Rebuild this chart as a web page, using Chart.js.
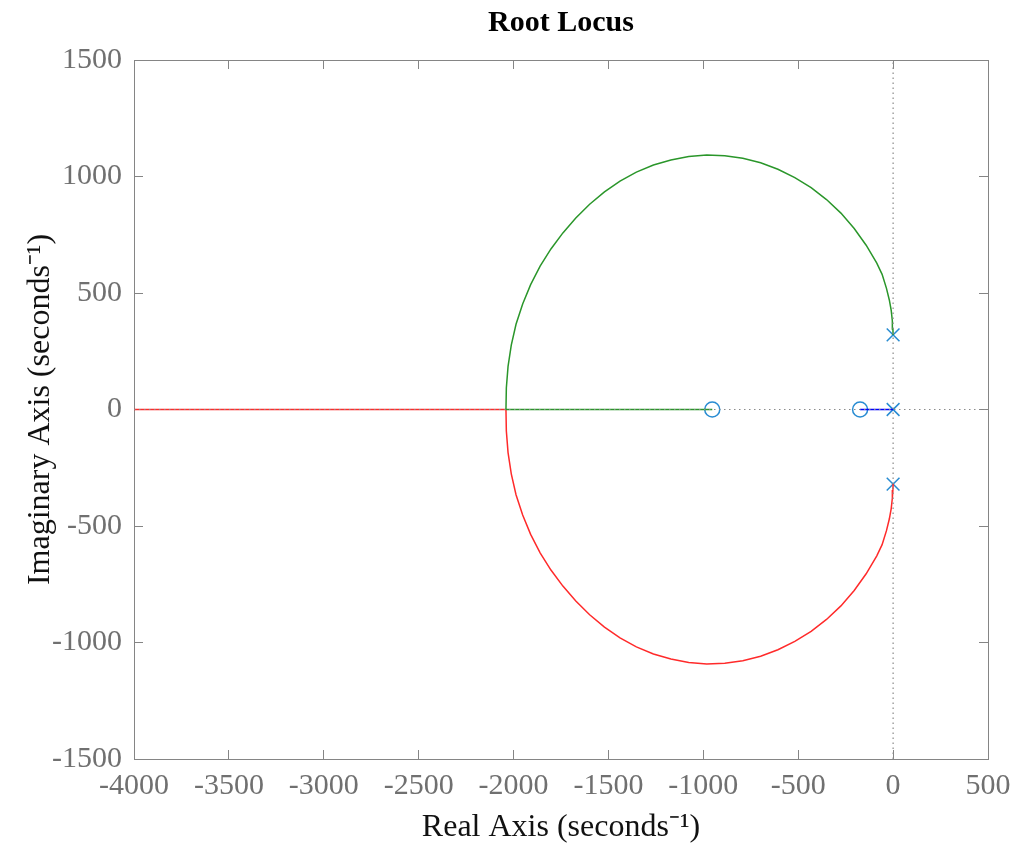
<!DOCTYPE html>
<html>
<head>
<meta charset="utf-8">
<title>Root Locus</title>
<script src="https://cdn.jsdelivr.net/npm/chart.js@4.4.1/dist/chart.umd.min.js"></script>
<style>
  body { margin: 0; background: #fff; }
  #wrap { width: 1016px; height: 848px; }
</style>
</head>
<body>
<div id="wrap"><canvas id="myChart" width="1016" height="848"></canvas></div>
<script>
// Ramas del lugar de las raices
const greenArcX = [0, -1, -4, -10, -20, -35, -58, -86, -142, -205, -275, -351, -432, -518, -607, -698, -792, -887, -982,
    -1077, -1171, -1263, -1353, -1439, -1521, -1599, -1672, -1740, -1803, -1860, -1910, -1952, -1987, -2012, -2029, -2038, -2040];
const greenArcY = [320, 345, 380, 425, 470, 520, 580, 628, 705, 777, 843, 901, 952, 995, 1031, 1059, 1078, 1089, 1092,
    1086, 1071, 1049, 1019, 980, 934, 881, 822, 758, 689, 615, 536, 453, 366, 276, 185, 92, 0];
const redArcX = [0, -1, -4, -10, -20, -35, -58, -86, -142, -205, -275, -351, -432, -518, -607, -698, -792, -887, -982,
    -1077, -1171, -1263, -1353, -1439, -1521, -1599, -1672, -1740, -1803, -1860, -1910, -1952, -1987, -2012, -2029, -2038, -2040];
const redArcY = [-320, -345, -380, -425, -470, -520, -580, -628, -705, -777, -843, -901, -952, -995, -1031, -1059, -1078, -1089, -1092,
    -1086, -1071, -1049, -1019, -980, -934, -881, -822, -758, -689, -615, -536, -453, -366, -276, -185, -92, 0];
const greenRealX = [-2040, -953];
const redRealX = [-2040, -4000];
const blueRealX = [0, -174];

// Polos y ceros
const polesX = [0, 0, 0];
const polesY = [320, 0, -320];
const zerosX = [-953, -174];
const zerosY = [0, 0];

// Ejes
const xMin = -4000, xMax = 500, xStep = 500;
const yMin = -1500, yMax = 1500, yStep = 500;

const toPts = (xs, ys) => xs.map((x, i) => ({ x: x, y: ys[i] }));
const onAxis = xs => xs.map(x => ({ x: x, y: 0 }));

const GRAY = '#707070';
const BOX = '#858585';
const MARK = 'rgb(40,140,210)';

// Caja y ticks hacia adentro (debajo de los datos, como en MATLAB)
const boxTicks = {
    id: 'boxTicks',
    beforeDatasetsDraw(chart) {
        const ctx = chart.ctx;
        const a = chart.chartArea;
        const xs = chart.scales.x, ys = chart.scales.y;
        const len = 9;
        ctx.save();
        ctx.strokeStyle = BOX;
        ctx.lineWidth = 1;
        ctx.beginPath();
        xs.ticks.forEach(t => {
            const px = Math.floor(xs.getPixelForValue(t.value)) + 0.5;
            ctx.moveTo(px, a.bottom); ctx.lineTo(px, a.bottom - len);
            ctx.moveTo(px, a.top); ctx.lineTo(px, a.top + len);
        });
        ys.ticks.forEach(t => {
            const py = Math.floor(ys.getPixelForValue(t.value)) + 0.5;
            ctx.moveTo(a.left, py); ctx.lineTo(a.left + len, py);
            ctx.moveTo(a.right, py); ctx.lineTo(a.right - len, py);
        });
        ctx.stroke();
        ctx.strokeRect(Math.floor(a.left) + 0.5, Math.floor(a.top) + 0.5,
            Math.round(a.right - a.left), Math.round(a.bottom - a.top));
        ctx.restore();
    },
    // Titulo centrado sobre el area de los ejes
    afterDraw(chart) {
        const ctx = chart.ctx;
        const a = chart.chartArea;
        ctx.save();
        ctx.fillStyle = '#000';
        ctx.font = 'bold 30px "Liberation Serif"';
        ctx.textAlign = 'center';
        ctx.textBaseline = 'middle';
        ctx.fillText('Root Locus', (a.left + a.right) / 2, 23);
        ctx.restore();
    }
};

const ctx = document.getElementById('myChart').getContext('2d');
const myChart = new Chart(ctx, {
    type: 'scatter',
    data: {
        datasets: [
            { data: [{ x: 0, y: yMin }, { x: 0, y: yMax }], showLine: true, borderColor: '#8a8a8a', borderWidth: 1.2, borderDash: [1.5, 3.5], pointRadius: 0 },
            { data: [{ x: xMin, y: 0 }, { x: xMax, y: 0 }], showLine: true, borderColor: '#8a8a8a', borderWidth: 1.2, borderDash: [1.5, 3.5], pointRadius: 0 },
            { data: toPts(greenArcX, greenArcY), showLine: true, borderColor: '#2a962a', borderWidth: 1.5, pointRadius: 0 },
            { data: onAxis(greenRealX), showLine: true, borderColor: '#2a962a', borderWidth: 1.5, pointRadius: 0 },
            { data: toPts(redArcX, redArcY), showLine: true, borderColor: '#ff2a2a', borderWidth: 1.5, pointRadius: 0 },
            { data: onAxis(redRealX), showLine: true, borderColor: '#ff2a2a', borderWidth: 1.5, pointRadius: 0 },
            { data: onAxis(blueRealX), showLine: true, borderColor: '#0000ff', borderWidth: 1.5, pointRadius: 0 },
            { data: toPts(polesX, polesY), pointStyle: 'crossRot', pointRadius: 9, borderColor: MARK, borderWidth: 1.5, backgroundColor: 'transparent' },
            { data: toPts(zerosX, zerosY), pointStyle: 'circle', pointRadius: 7.5, borderColor: MARK, borderWidth: 1.5, backgroundColor: 'transparent' }
        ]
    },
    options: {
        responsive: false,
        animation: false,
        layout: { padding: { left: 0, right: 28, top: 60, bottom: 0 } },
        plugins: {
            legend: { display: false },
            tooltip: { enabled: false },
            title: { display: false }
        },
        scales: {
            x: {
                type: 'linear', min: xMin, max: xMax,
                grid: { display: false, drawTicks: false },
                border: { display: false },
                ticks: {
                    stepSize: xStep, color: GRAY, padding: 9,
                    font: { family: 'Liberation Serif', size: 30 },
                    callback: v => String(v)
                },
                title: {
                    display: true, text: 'Real Axis (seconds\u207B\u00B9)', color: '#111',
                    font: { family: 'Liberation Serif', size: 32 },
                    padding: { top: 0, bottom: 1 }
                },
                afterFit(scale) {
                    scale.height = 89;
                    scale.paddingLeft = 0;
                    scale.paddingRight = 0;
                }
            },
            y: {
                type: 'linear', min: yMin, max: yMax,
                grid: { display: false, drawTicks: false },
                border: { display: false },
                ticks: {
                    stepSize: yStep, color: GRAY, padding: 12,
                    font: { family: 'Liberation Serif', size: 30 },
                    callback: v => String(v)
                },
                title: {
                    display: true, text: 'Imaginary Axis (seconds\u207B\u00B9)', color: '#111',
                    font: { family: 'Liberation Serif', size: 32 },
                    padding: { top: 21, bottom: 0 }
                },
                afterFit(scale) {
                    scale.width = 134;
                    scale.paddingTop = 0;
                    scale.paddingBottom = 0;
                }
            }
        }
    },
    plugins: [boxTicks]
});
</script>
</body>
</html>
